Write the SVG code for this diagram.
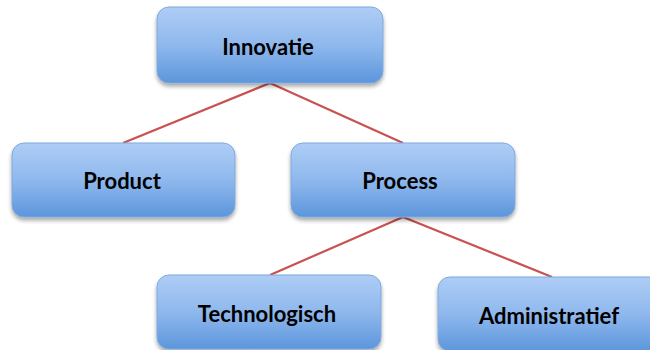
<svg xmlns="http://www.w3.org/2000/svg" width="650" height="350" viewBox="0 0 650 350">
  <style>
    .box { fill: url(#boxFill); stroke: #7fa9dc; stroke-width: 1; filter: url(#shadow); }
    .label { font-family: Lato, "Open Sans", "Liberation Sans", sans-serif; font-weight: bold; font-size: 22px; fill: #000; text-anchor: middle; }
    .link { stroke: #c8524f; stroke-width: 2.2; fill: none; }
  </style>
  <defs>
    <linearGradient id="boxFill" x1="0" y1="0" x2="0" y2="1">
      <stop offset="0" stop-color="#aecdf6"/>
      <stop offset="0.5" stop-color="#8fb8ed"/>
      <stop offset="1" stop-color="#5c96dc"/>
    </linearGradient>
    <filter id="shadow" x="-10%" y="-10%" width="120%" height="140%">
      <feGaussianBlur in="SourceAlpha" stdDeviation="2"/>
      <feOffset dy="3" result="b"/>
      <feComponentTransfer><feFuncA type="linear" slope="0.35"/></feComponentTransfer>
      <feMerge><feMergeNode/><feMergeNode in="SourceGraphic"/></feMerge>
    </filter>
  </defs>
  <rect width="650" height="350" fill="#fff"/>

  <g id="connectors">
    <line class="link" x1="270" y1="83" x2="123" y2="143"/>
    <line class="link" x1="270" y1="83" x2="403" y2="143"/>
    <line class="link" x1="403" y1="217" x2="270" y2="275"/>
    <line class="link" x1="403" y1="217" x2="552" y2="277"/>
  </g>

  <g id="innovatie">
    <rect class="box" x="157" y="7" width="226" height="76" rx="12"/>
    <text class="label" x="268" y="55">Innovatie</text>
  </g>
  <g id="product">
    <rect class="box" x="12" y="143" width="223" height="74" rx="12"/>
    <text class="label" x="122" y="189">Product</text>
  </g>
  <g id="process">
    <rect class="box" x="291" y="143" width="224" height="74" rx="12"/>
    <text class="label" x="400" y="189">Process</text>
  </g>
  <g id="technologisch">
    <rect class="box" x="157" y="275" width="224" height="74" rx="12"/>
    <text class="label" x="267" y="322">Technologisch</text>
  </g>
  <g id="administratief">
    <rect class="box" x="438" y="277" width="224" height="74" rx="12"/>
    <text class="label" x="549" y="324">Administratief</text>
  </g>
</svg>
